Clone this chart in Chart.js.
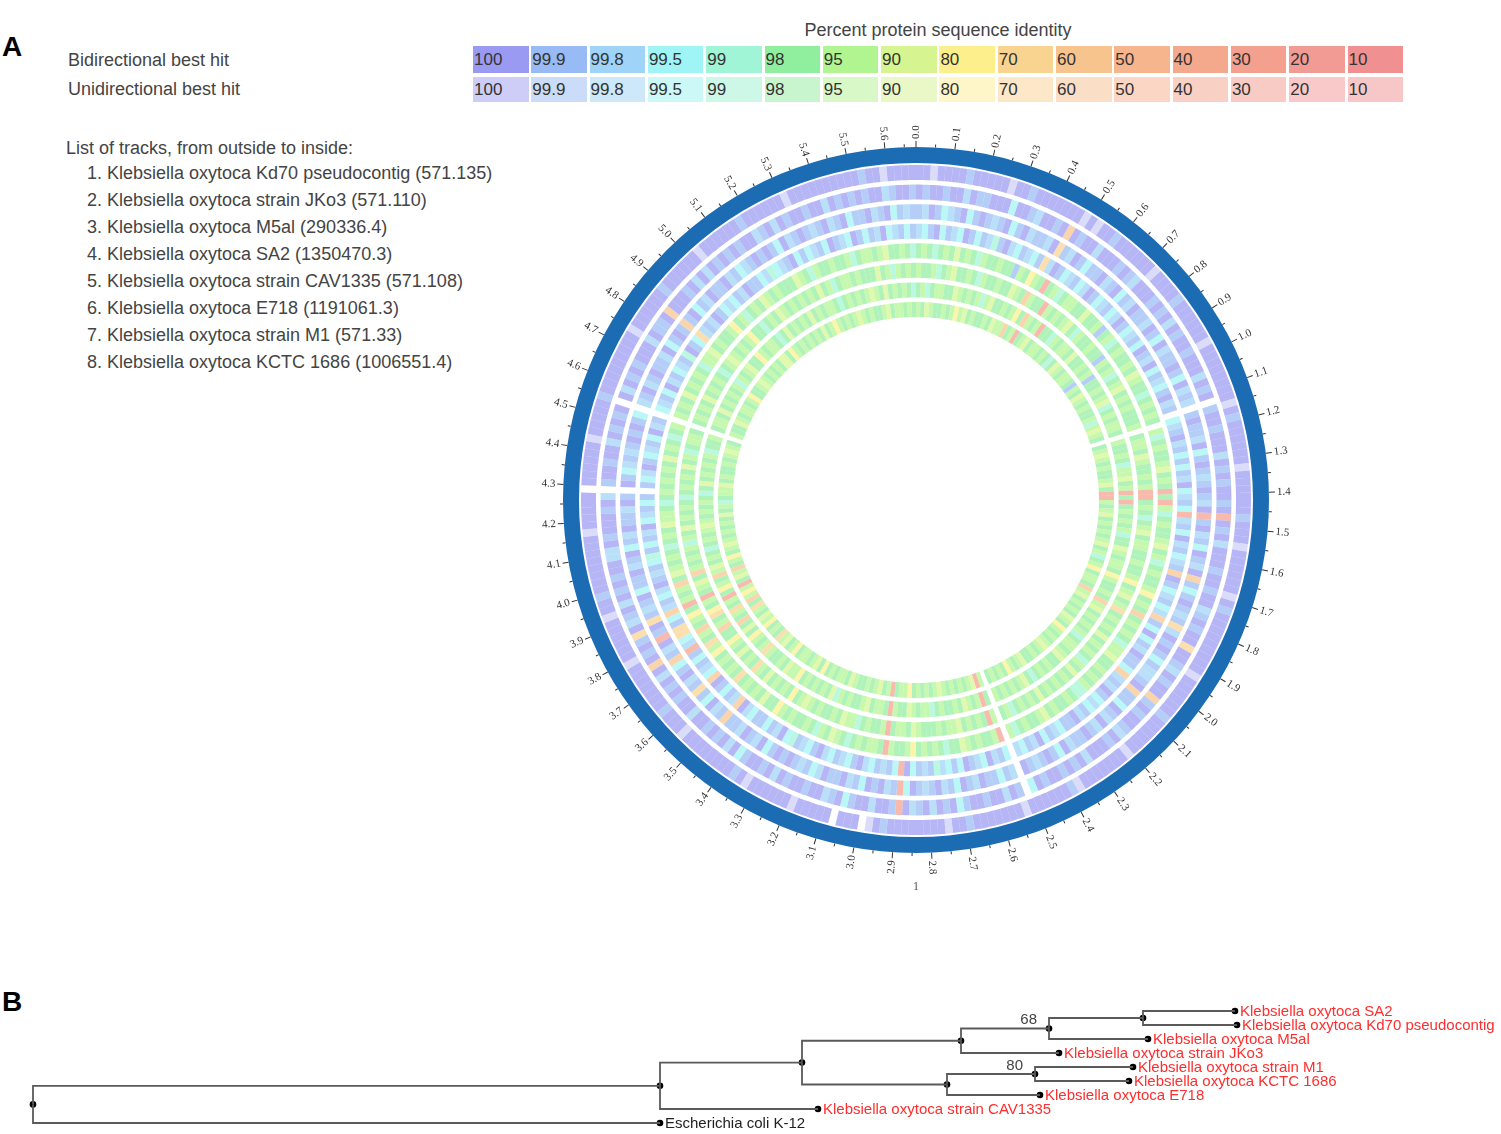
<!DOCTYPE html>
<html>
<head>
<meta charset="utf-8">
<script src="https://cdn.jsdelivr.net/npm/chart.js@4.4.0/dist/chart.umd.min.js"></script>
<style>
  body { margin: 0; background: #fff; width: 1501px; height: 1134px; position: relative; overflow: hidden;
         font-family: "Liberation Sans", Arial, sans-serif; color: #444; }
  .t { position: absolute; white-space: nowrap; line-height: 1; font-size: 18px; }
  .panel { font-weight: bold; font-size: 28px; color: #000; }
  .cell { position: absolute; font-size: 17px; color: #333; padding-left: 1px; box-sizing: border-box; }
  canvas { position: absolute; }
</style>
</head>
<body>
<div class="t panel" style="left:2px;top:33px">A</div>
<div class="t panel" style="left:2px;top:988px">B</div>
<div class="t" style="left:938px;top:21px;transform:translateX(-50%)">Percent protein sequence identity</div>
<div class="t" style="left:68px;top:51px">Bidirectional best hit</div>
<div class="t" style="left:68px;top:80px">Unidirectional best hit</div>
<div id="legend"></div>
<div id="tracklist"></div>

<canvas id="ring" width="800" height="800" style="left:516px;top:100px;width:800px;height:800px"></canvas>
<canvas id="tree" width="1501" height="144" style="left:0;top:990px;width:1501px;height:144px"></canvas>

<script>
// ---- legend: identity classes ----
var identityLevels = ["100", "99.9", "99.8", "99.5", "99", "98", "95", "90", "80", "70", "60", "50", "40", "30", "20", "10"];
var biColors = ["#9a9af2", "#99bbf5", "#9fd3f7", "#9ff5f5", "#9ff5d5", "#90ef9f", "#b0f590", "#d6f590",
                "#fdf08c", "#f9d390", "#f8c48e", "#f7b58d", "#f5a98c", "#f4a08e", "#f29a94", "#f09090"];
var uniColors = ["#cdcdf8", "#cbdcf9", "#cde8f9", "#cdf8f8", "#cdf8e8", "#c8f5cd", "#d8f8c8", "#eaf8c8",
                 "#fef6c8", "#fce8c8", "#fbdec6", "#fbd6c5", "#f9d0c4", "#f8cbc5", "#f8c9c8", "#f7c6c6"];

var trackNames = [
  "Klebsiella oxytoca Kd70 pseudocontig (571.135)",
  "Klebsiella oxytoca strain JKo3 (571.110)",
  "Klebsiella oxytoca M5al (290336.4)",
  "Klebsiella oxytoca SA2 (1350470.3)",
  "Klebsiella oxytoca strain CAV1335 (571.108)",
  "Klebsiella oxytoca E718 (1191061.3)",
  "Klebsiella oxytoca strain M1 (571.33)",
  "Klebsiella oxytoca KCTC 1686 (1006551.4)"
];

// genome in 0.02 Mb bins; A..P = bidirectional 100..10, a..p = unidirectional, "." = no hit
var binSize = 0.02;
var track1 = "AAaAA AABAA AAAaA ABAAA AAAAa AaAAB AAAAA AaAAA ABAAA AAAaA " +
             "AAAAA AAaAB AAAAA AaAAA AAABA AAaAA AAAAa ABAAA AAAAA AaAAA " +
             "AAABA AAAAA aAAAA AAAaB AAAAA AaAAA AAAAB AAaAA AAAAA ABAa. " +
             "AAA.A AAAAa AAAAA AaABA AAAAA AAaAA ABAAA AAAAa AAAAA AaAAB " +
             "AAAAA AAAaA AAAA. AAAAA AaAAA AABAA AAAAA AAaAA AAAAB AAAAA " +
             "AaAAA AAABA AAAAA aAAAA AAAAA ABAAa AAAA";
var track2 = "ABAAB AACAB BAAAD AABCA ABAKA BAACA AABAB CAAAB ABACA BAABA " +
             "AACAB A.BAA BAAAC ABABA ABANA BACAA ABAAB AACBA BAAJA ABCAB " +
             "AAKBA BAABC ABAAA CABAB AABAD .BACA ABAAB DABAC ABCAN BAACA " +
             "ABDAB CAABA ABACA BAABD ACABA BAACA ABABA CAKAB ABJAC BACAB " +
             "ABAAC CABAA ABAC. BAABA ACABA BA.AC ABABA AACAB BAKAA ABACA " +
             "CABAB ABAAC BACAB AABAA CABAB ABAAC BAAB";
var track3 = "BCABD CBADB ABCBA DBACB BCAJB CABDB BACBA DBCAB BCABD ACBBA " +
             "BDACB C.BAB BCADB ABCBA BCANB ACBDA BCAKB DBABC BJCAB ABDBC " +
             "CBAKB BDABC ACBAB BCADB ABCBA .CBDB BACBA DBCAB CBADN BCABA " +
             "DBCAB BACDB CBABA BDACB ACBBK BCADB JBCAB DKBCA NBAJB CBADB " +
             "BACBA DBCAB BCAB. ABDCB CBABA BD.CB ACBAB BCADB ABKBA DBCAB " +
             "BACBD CBABA BDACB ABCBA CBADB BACBA DBCB";
var track4 = "CDBAD BCDAB DBCEB ACDBC DBJCA BDCBD CABDC BDCAB DCBDA BCADB " +
             "CDBAC B.DCB ACBDB DBCAD CBDNC BDACB DCBKA BDCBD CKBDA DBCAB " +
             "BDKCB CABDC DBCAB BDCBD ACBDC .DBCA DCBAD BDCEB CBDAN DBCBD " +
             "CABDC BDCAB DCBED ACBDB BDCAK CBDBA KDCBD BNCDJ JBDKC BDCAB " +
             "CBDEB DBCAD CBDB. BDCAB DCBDA CB.DC BDACB DCBEA BDJCB CABDC " +
             "DBCAB BDCED CBADB DCBDA BCDAB DBCAD CBDB";
var track5 = "FGFEF GFHFG FEGFF GFFBG FIGFN FGEFG GFFHF FGBFG EFGFF GFHGF " +
             "FEFGF GF.GE FGFFG HFGFN FNGEF GFFGH FGEFG FFGIF GFKFG FGFEG " +
             "GHFFG FGFGE EFGFF GFHGF FGFEG .NGFF GFGHF FEFGF GFIGF FGNFG " +
             "GFGFE FGHFG EFGFF GFGIF FHFGF GFJFG FGFIG JFGKF GIFNG FGKFH " +
             "GFGFE FGFHG GFEFG FGFGF HFGFE FG.GF GFHFG FGFEG GHFGF FGIFG " +
             "EFGFH GFGFF FHGFE GFFGF FGEFG GFGHF FGFE";
var track6 = "GFFGE FGHFF GFEGF FGFFH GFKGF FNGFG FGHFE GFFGF FBGFG EFGHF " +
             "GFGFF FG.FG GFHGF FGFGN NFGFE FGHFG GFFGF FGIFG HFGJF GFGFH " +
             "FGFGF EGFHF GFGFG FHFGF GFEGF .GNFG FGFHG GFGFF FGHFG GFNGF " +
             "FGFEG GHFGF FGFGH GFIFG FGFHF GJFGF HFGIF FKGFJ IFGNF GHFKG " +
             "FGFGE GFHFG FGFEF GFGFH FGEFG GF.FG FGFHF GFGFE FGHGF GFGIF " +
             "FEFGF HGFGF GFGFH FGEFG GFGFF FHFGE GFGF";
var track7 = "FGEFG GFFHG FGFGE GHFFG FGIFK GFGNF FEGFG GFHFF GFGBF FGFGH " +
             "EFGFG GF.GF FGFEG GHFGN FNFGF GFGEF FHGFG GFIGF FGFKG HFGFG " +
             "FGEFG GFGHF FGFGF EFHGF GFGFG .FNGF GHFGF FGFEG GFGHF FGNFG " +
             "GFHGF FGFGE HFGFG FGFIG GHFGF FGJGF GIFHF KFGJF GNFIG FKGHF " +
             "GFEFG FGHGF GFGFE FHFGF GFGEF FG.FG GFHFG FGFGE GFGHF FIGFG " +
             "GFEFH FGFGF HFGFG GFEFG FGFGH GFHFG FGFE";
var track8 = "GFHGF FGFGI GHFGF FGFHG GKFGN FGHFG GFGFE FHGFG GFBGF HGFGF " +
             "FGEGH GF.FG HGFGF FGHFN NGFGH FGFGF GHFGE FGIFG GFKGH FGFGF " +
             "HGFIG FGFGH GFGFF HGFGI FGFGF .GNHG FGFGF GHGFG FGFIG GFNGF " +
             "HGFGF FGHFG GFGFI FHGFG GFIGF HGJFG FIGHF GJFKG IGNFH GKFGI " +
             "FGHGF GFGFH FGEFG GHFGF FGFGH GF.GF FHGFG GFGIF FGHGF GFGFH " +
             "HFIGF GFGFG FHFGI GFGFG HGFGF FGHFG GFGF";
var trackCodes = [track1, track2, track3, track4, track5, track6, track7, track8];

var axisLabels = ["0.0", "0.1", "0.2", "0.3", "0.4", "0.5", "0.6", "0.7", "0.8", "0.9",
                  "1.0", "1.1", "1.2", "1.3", "1.4", "1.5", "1.6", "1.7", "1.8", "1.9",
                  "2.0", "2.1", "2.2", "2.3", "2.4", "2.5", "2.6", "2.7", "2.8", "2.9",
                  "3.0", "3.1", "3.2", "3.3", "3.4", "3.5", "3.6", "3.7", "3.8", "3.9",
                  "4.0", "4.1", "4.2", "4.3", "4.4", "4.5", "4.6", "4.7", "4.8", "4.9",
                  "5.0", "5.1", "5.2", "5.3", "5.4", "5.5", "5.6"];
var contigNames = ["1"];

// ---- tree ----
var leafNames = ["Klebsiella oxytoca SA2", "Klebsiella oxytoca Kd70 pseudocontig", "Klebsiella oxytoca M5al",
                 "Klebsiella oxytoca strain JKo3", "Klebsiella oxytoca strain M1", "Klebsiella oxytoca KCTC 1686",
                 "Klebsiella oxytoca E718", "Klebsiella oxytoca strain CAV1335", "Escherichia coli K-12"];
var leafDepth = [1.202, 1.204, 1.115, 1.026, 1.100, 1.096, 1.007, 0.785, 0.627];
var nodeNames = ["root", "n1", "n2", "n3", "n68", "nSA", "n4", "n80"];
var nodeDepth = [0, 0.627, 0.769, 0.928, 1.016, 1.110, 0.914, 1.002];
var nodeChildren = [["n1", 8], ["n2", 7], ["n3", "n4"], ["n68", 3], ["nSA", 2], [0, 1], ["n80", 6], [4, 5]];
var nodeSupport = ["", "", "", "", "68", "", "", "80"];

// ---------- legend cells ----------
var legend = document.getElementById("legend");
identityLevels.forEach(function (lv, i) {
  [[biColors, 46, 27], [uniColors, 77, 25]].forEach(function (row) {
    var d = document.createElement("div");
    d.className = "cell";
    d.style.cssText = "left:" + (473 + i * 58.3) + "px;top:" + row[1] + "px;width:55.5px;height:" + row[2] +
                      "px;line-height:" + row[2] + "px;background:" + row[0][i];
    d.textContent = lv;
    legend.appendChild(d);
  });
});

var tl = document.getElementById("tracklist");
var head = document.createElement("div");
head.className = "t"; head.style.cssText = "left:66px;top:139px";
head.textContent = "List of tracks, from outside to inside:";
tl.appendChild(head);
trackNames.forEach(function (n, i) {
  var d = document.createElement("div");
  d.className = "t"; d.style.cssText = "left:87px;top:" + (164 + i * 27) + "px";
  d.textContent = (i + 1) + ". " + n;
  tl.appendChild(d);
});

// ---------- circular plot ----------
function withAlpha(hex, a) {
  var r = parseInt(hex.substr(1, 2), 16), g = parseInt(hex.substr(3, 2), 16), b = parseInt(hex.substr(5, 2), 16);
  return "rgba(" + r + "," + g + "," + b + "," + a + ")";
}
function codeColor(c) {
  if (c === ".") return "rgba(255,255,255,0)";
  var up = c.toUpperCase();
  var idx = up.charCodeAt(0) - 65;
  return withAlpha(c === up ? biColors[idx] : uniColors[idx], 0.72);
}

var codes = trackCodes.map(function (s) { return s.replace(/\s+/g, "").split(""); });
var genomeLength = codes[0].length * binSize;

var datasets = [
  { data: [genomeLength], backgroundColor: ["#1c6cb4"], weight: 16 },
  { data: [1], backgroundColor: ["rgba(0,0,0,0)"], weight: 2 }
];
codes.forEach(function (arr, i) {
  if (i > 0) datasets.push({ data: [1], backgroundColor: ["rgba(0,0,0,0)"], weight: 32 / 7 });
  datasets.push({
    label: trackNames[i],
    data: arr.map(function () { return binSize; }),
    backgroundColor: arr.map(codeColor),
    weight: 15
  });
});
datasets.forEach(function (d) { d.borderWidth = 0; d.hoverBorderWidth = 0; d.hoverOffset = 0; });

var genomeAxis = {
  id: "genomeAxis",
  afterDatasetsDraw: function (chart) {
    var arc = chart.getDatasetMeta(0).data[0];
    var cx = arc.x, cy = arc.y, R = arc.outerRadius;
    var ctx = chart.ctx;
    ctx.save();
    ctx.strokeStyle = "#333";
    ctx.fillStyle = "#333";
    ctx.lineWidth = 1;
    ctx.font = "11px 'Liberation Serif', 'Times New Roman', serif";
    ctx.textBaseline = "middle";
    axisLabels.forEach(function (lbl) {
      var v = parseFloat(lbl);
      [[v, 6, lbl], [v + 0.05, 3, null]].forEach(function (t) {
        if (t[0] >= genomeLength) return;
        var th = t[0] / genomeLength * Math.PI * 2;
        ctx.save();
        ctx.translate(cx, cy);
        ctx.rotate(th - Math.PI / 2);
        ctx.beginPath(); ctx.moveTo(R, 0); ctx.lineTo(R + t[1], 0); ctx.stroke();
        if (t[2]) {
          if (th < Math.PI) { ctx.textAlign = "left"; ctx.fillText(t[2], R + 8, 0); }
          else { ctx.translate(R + 8, 0); ctx.rotate(Math.PI); ctx.textAlign = "right"; ctx.fillText(t[2], 0, 0); }
        }
        ctx.restore();
      });
    });
    // contig name at the middle of the contig
    ctx.fillStyle = "#555";
    ctx.font = "12px 'Liberation Serif', 'Times New Roman', serif";
    ctx.textAlign = "center";
    var mid = Math.PI;
    ctx.fillText(contigNames[0], cx + Math.sin(mid) * (R + 34), cy - Math.cos(mid) * (R + 34));
    ctx.restore();
  }
};

new Chart(document.getElementById("ring"), {
  type: "doughnut",
  data: { datasets: datasets },
  options: {
    responsive: false,
    animation: false,
    events: [],
    radius: 353,
    cutout: (183 / 353 * 100) + "%",
    spacing: 0,
    plugins: { legend: { display: false }, tooltip: { enabled: false } }
  },
  plugins: [genomeAxis]
});

// ---------- tree ----------
var nodes = {};
leafNames.forEach(function (n, i) { nodes[i] = { x: leafDepth[i], y: i, name: n, leaf: true }; });
function layout(key) {
  if (nodes[key]) return nodes[key];
  var i = nodeNames.indexOf(key);
  var kids = nodeChildren[i].map(layout);
  var y = (kids[0].y + kids[1].y) / 2;
  nodes[key] = { x: nodeDepth[i], y: y, kids: kids, support: nodeSupport[i] };
  return nodes[key];
}
var root = layout("root");

var treeSets = [];
var allPts = [];
Object.keys(nodes).forEach(function (k) {
  var nd = nodes[k];
  allPts.push({ x: nd.x, y: nd.y });
  (nd.kids || []).forEach(function (c) {
    treeSets.push({
      data: [{ x: nd.x, y: nd.y }, { x: nd.x, y: c.y }, { x: c.x, y: c.y }],
      showLine: true, borderColor: "#5a5a5a", borderWidth: 1.8, pointRadius: 0, tension: 0
    });
  });
});
treeSets.push({ data: allPts, showLine: false, pointRadius: 3.3, pointBackgroundColor: "#000", pointBorderWidth: 0 });

var treeLabels = {
  id: "treeLabels",
  afterDatasetsDraw: function (chart) {
    var ctx = chart.ctx, xs = chart.scales.x, ys = chart.scales.y;
    ctx.save();
    ctx.font = "15px 'Liberation Sans', Arial, sans-serif";
    ctx.textBaseline = "middle";
    Object.keys(nodes).forEach(function (k) {
      var nd = nodes[k];
      var px = xs.getPixelForValue(nd.x), py = ys.getPixelForValue(nd.y);
      if (nd.leaf) {
        ctx.textAlign = "left";
        ctx.fillStyle = nd.name.indexOf("Klebsiella") === 0 ? "#ff2d2d" : "#222";
        ctx.fillText(nd.name, px + 5, py + 1);
      } else if (nd.support) {
        ctx.textAlign = "right";
        ctx.textBaseline = "bottom";
        ctx.fillStyle = "#444";
        ctx.fillText(nd.support, px - 12, py - 1);
        ctx.textBaseline = "middle";
      }
    });
    ctx.restore();
  }
};

new Chart(document.getElementById("tree"), {
  type: "scatter",
  data: { datasets: treeSets },
  options: {
    responsive: false,
    animation: false,
    events: [],
    layout: { padding: 0, autoPadding: false },
    scales: {
      x: { type: "linear", min: -0.033, max: 1.468, display: false },
      y: { type: "linear", min: -1.5, max: 8.786, reverse: true, display: false }
    },
    plugins: { legend: { display: false }, tooltip: { enabled: false } }
  },
  plugins: [treeLabels]
});
</script>
</body>
</html>
